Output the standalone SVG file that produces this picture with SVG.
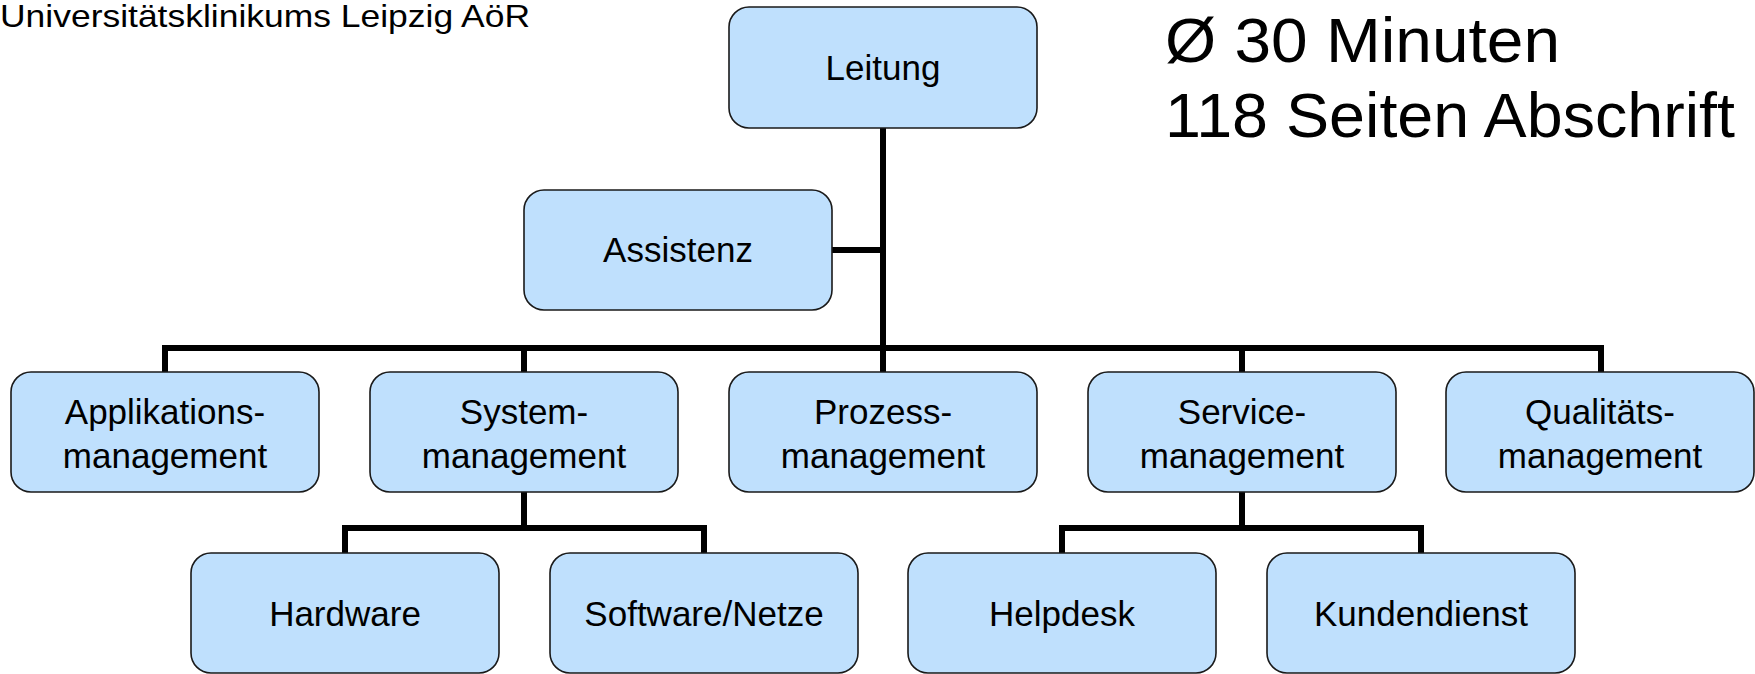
<svg xmlns="http://www.w3.org/2000/svg" width="1755" height="674" viewBox="0 0 1755 674">
  <style>
    .box { fill: #bfe0fd; stroke: #1a1a1a; stroke-width: 1.6; }
    .lbl { font-family: "Liberation Sans", Arial, sans-serif; font-size: 35px; fill: #000; text-anchor: middle; }
    .note { font-family: "Liberation Sans", Arial, sans-serif; fill: #000; }
    .wire { fill: none; stroke: #000; stroke-width: 6; stroke-linecap: butt; stroke-linejoin: miter; }
  </style>
  <rect width="1755" height="674" fill="#ffffff"/>

  <!-- header texts -->
  <text class="note" x="0" y="27" font-size="32" textLength="530" lengthAdjust="spacingAndGlyphs">Universitätsklinikums Leipzig AöR</text>
  <text class="note" x="1165" y="62" font-size="63" textLength="395" lengthAdjust="spacingAndGlyphs">Ø 30 Minuten</text>
  <text class="note" x="1165" y="137" font-size="63" textLength="570" lengthAdjust="spacingAndGlyphs">118 Seiten Abschrift</text>

  <!-- connectors -->
  <g id="connectors">
    <path class="wire" d="M883 128 V372"/>
    <path class="wire" d="M832 250 H883" stroke-width="5"/>
    <path class="wire" d="M165 372 V348 H1601 V372"/>
    <path class="wire" d="M524 348 V372"/>
    <path class="wire" d="M1242 348 V372"/>
    <path class="wire" d="M524 492 V528"/>
    <path class="wire" d="M345 553 V528 H704 V553"/>
    <path class="wire" d="M1242 492 V528"/>
    <path class="wire" d="M1062 553 V528 H1421 V553"/>
  </g>

  <!-- level 0 -->
  <g id="leitung">
    <rect class="box" x="729" y="7" width="308" height="121" rx="20"/>
    <text class="lbl" x="883" y="80">Leitung</text>
  </g>
  <g id="assistenz">
    <rect class="box" x="524" y="190" width="308" height="120" rx="20"/>
    <text class="lbl" x="678" y="262">Assistenz</text>
  </g>

  <!-- level 1 -->
  <g id="applikationsmanagement">
    <rect class="box" x="11" y="372" width="308" height="120" rx="20"/>
    <text class="lbl" x="165" y="424">Applikations-</text>
    <text class="lbl" x="165" y="468">management</text>
  </g>
  <g id="systemmanagement">
    <rect class="box" x="370" y="372" width="308" height="120" rx="20"/>
    <text class="lbl" x="524" y="424">System-</text>
    <text class="lbl" x="524" y="468">management</text>
  </g>
  <g id="prozessmanagement">
    <rect class="box" x="729" y="372" width="308" height="120" rx="20"/>
    <text class="lbl" x="883" y="424">Prozess-</text>
    <text class="lbl" x="883" y="468">management</text>
  </g>
  <g id="servicemanagement">
    <rect class="box" x="1088" y="372" width="308" height="120" rx="20"/>
    <text class="lbl" x="1242" y="424">Service-</text>
    <text class="lbl" x="1242" y="468">management</text>
  </g>
  <g id="qualitaetsmanagement">
    <rect class="box" x="1446" y="372" width="308" height="120" rx="20"/>
    <text class="lbl" x="1600" y="424">Qualitäts-</text>
    <text class="lbl" x="1600" y="468">management</text>
  </g>

  <!-- level 2 -->
  <g id="hardware">
    <rect class="box" x="191" y="553" width="308" height="120" rx="20"/>
    <text class="lbl" x="345" y="626">Hardware</text>
  </g>
  <g id="software-netze">
    <rect class="box" x="550" y="553" width="308" height="120" rx="20"/>
    <text class="lbl" x="704" y="626">Software/Netze</text>
  </g>
  <g id="helpdesk">
    <rect class="box" x="908" y="553" width="308" height="120" rx="20"/>
    <text class="lbl" x="1062" y="626">Helpdesk</text>
  </g>
  <g id="kundendienst">
    <rect class="box" x="1267" y="553" width="308" height="120" rx="20"/>
    <text class="lbl" x="1421" y="626">Kundendienst</text>
  </g>
</svg>
